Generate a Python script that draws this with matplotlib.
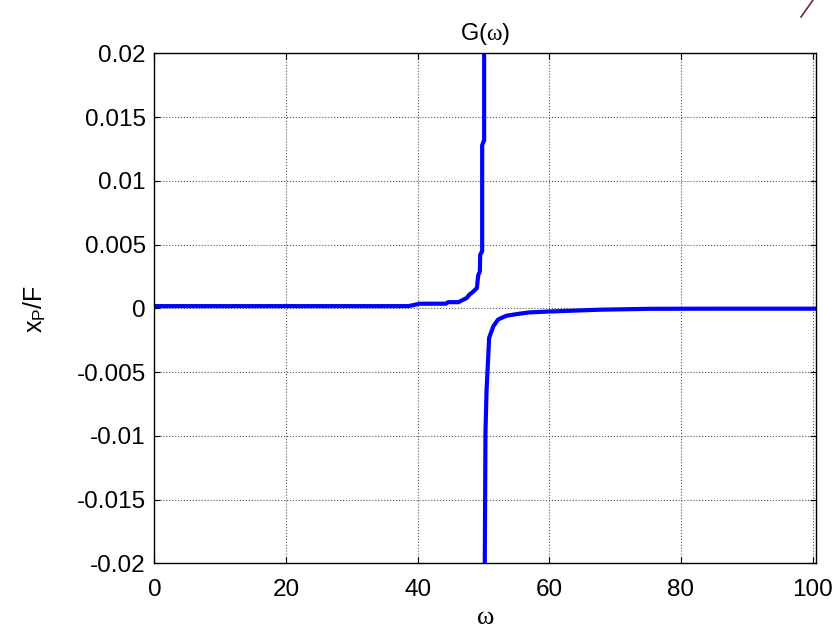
import matplotlib
matplotlib.use("Agg")
import matplotlib.pyplot as plt
from matplotlib.lines import Line2D

plt.rcParams['font.family'] = ['Liberation Sans', 'DejaVu Sans']
plt.rcParams['mathtext.fontset'] = 'custom'
plt.rcParams['mathtext.rm'] = 'Liberation Sans'
plt.rcParams['mathtext.it'] = 'Liberation Serif'

# --- Daten ---
# Ast unterhalb der Resonanz
w_links = [0, 38.6, 40.3, 44.3, 44.6, 46.2, 46.9, 47.4, 47.9, 48.4, 49.0, 49.2,
           49.45, 49.5, 49.8, 49.8, 50.1, 50.1]
g_links = [0.00018, 0.00018, 0.00037, 0.00037, 0.00049, 0.00049, 0.00068, 0.0008,
           0.0011, 0.0013, 0.0016, 0.0026, 0.0029, 0.0042, 0.0045, 0.0128, 0.0132, 0.03]

# Ast oberhalb der Resonanz
w_rechts = [50.1, 50.3, 50.46, 50.86, 51.5, 52.2, 52.5, 53.5, 55.5, 57.0, 60.0,
            67.7, 75.3, 85.0, 101.0]
g_rechts = [-0.03, -0.0098, -0.0065, -0.0023, -0.0014, -0.00088, -0.0008, -0.00057,
            -0.00041, -0.00031, -0.00024, -0.0001, -0.00003, -0.00002, -0.00002]

x_ticks = [0, 20, 40, 60, 80, 100]
y_ticks = [-0.02, -0.015, -0.01, -0.005, 0, 0.005, 0.01, 0.015, 0.02]
y_ticklabels = ['-0.02', '-0.015', '-0.01', '-0.005', '0', '0.005', '0.01', '0.015', '0.02']

fig = plt.figure(figsize=(8.36, 6.33), dpi=100)
ax = fig.add_axes([0.1846, 0.110, 0.976 - 0.1846, 0.9155 - 0.110])

ax.plot(w_links, g_links, color='#0000ff', lw=3)
ax.plot(w_rechts, g_rechts, color='#0000ff', lw=3)

ax.set_xlim(0, 100.5)
ax.set_ylim(-0.02, 0.02)
ax.set_xticks(x_ticks)
ax.set_yticks(y_ticks)
ax.set_yticklabels(y_ticklabels)

ax.grid(True, linestyle=':', color='#555555', lw=0.8)
ax.tick_params(direction='in', length=4, width=0.8, top=True, right=True,
               labelsize=17.5)
ax.tick_params(axis='x', pad=11)
ax.tick_params(axis='y', pad=6)
for s in ax.spines.values():
    s.set_linewidth(1.0)

ax.set_title(r'G($\omega$)', fontsize=17, pad=10)
ax.set_xlabel(r'$\omega$', fontsize=19, labelpad=3)
ax.set_ylabel(r'x$_\mathrm{P}$/F', fontsize=18)
ax.yaxis.set_label_coords(-0.16, 0.5)

# kleiner Strich oben rechts (Bildrest)
fig.add_artist(Line2D([801 / 836, 813 / 836], [1 - 17 / 633, 1.0],
                      transform=fig.transFigure, color='#7a2046', lw=1.2))

fig.savefig('out.png', dpi=100)
